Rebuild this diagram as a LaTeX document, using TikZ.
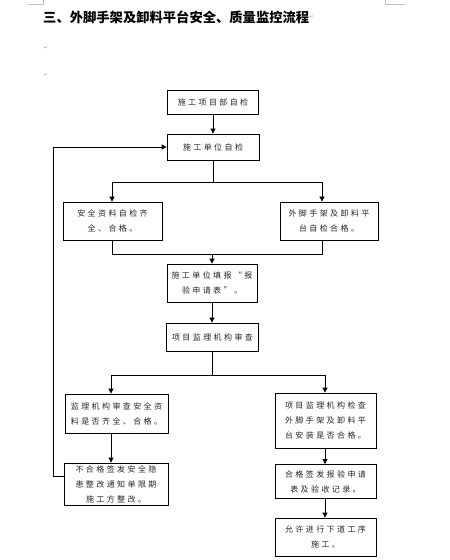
\documentclass[tikz,border=0pt]{standalone}
\usepackage{fontspec}
\usetikzlibrary{arrows.meta}
\setmainfont{Liberation Serif}
\newfontfamily\cjkbox{Noto Sans CJK SC}[LetterSpace=30]
\newfontfamily\cjktitle{Noto Sans CJK SC}
\newfontfamily\dejavu{DejaVu Sans}
\begin{document}
\begin{tikzpicture}[x=1bp,y=-1bp,
  box/.style={draw,line width=0.8bp,align=center,inner sep=0pt,
    font=\cjkbox\fontsize{8bp}{15bp}\selectfont,text=black!85},
  arr/.style={line width=0.8bp,-{Triangle[length=5bp,width=5bp]}},
  ln/.style={line width=0.8bp},
  pmark/.style={font=\dejavu\fontsize{5bp}{5bp}\selectfont,text=gray!70,inner sep=0pt}]
\useasboundingbox (0,0) rectangle (450,560);
\fill[white] (0,0) rectangle (450,560);
% corner marks
\draw[gray!50,line width=0.5bp] (28,4) -- (43,4) -- (43,0);
\draw[gray!50,line width=0.5bp] (385,0) -- (385,4) -- (405,4);
% title
\node[anchor=west,inner sep=0pt,font=\cjktitle\bfseries\fontsize{13.3bp}{15bp}\selectfont] (title) at (43,17) {三、外脚手架及卸料平台安全、质量监控流程};
\node[pmark,anchor=west] (pm0) at (title.east) {↵};
\node[pmark] (pm1) at (46,48) {↵};
\node[pmark] (pm2) at (46,75) {↵};
% boxes
\node[box,minimum width=91bp,minimum height=24bp] (b1) at (213,102) {施工项目部自检};
\node[box,minimum width=92bp,minimum height=26bp] (b2) at (213,147) {施工单位自检};
\node[box,minimum width=99bp,minimum height=38bp] (b3) at (112.5,221) {安全资料自检齐\\全、合格。};
\node[box,minimum width=98bp,minimum height=38bp] (b4) at (329,221) {外脚手架及卸料平\\台自检合格。};
\node[box,minimum width=90bp,minimum height=38bp] (b5) at (212,283) {施工单位填报“报\\验申请表”。};
\node[box,minimum width=92bp,minimum height=28bp] (b6) at (212.5,337) {项目监理机构审查};
\node[box,minimum width=103bp,minimum height=39bp] (b7) at (116.5,413.5) {监理机构审查安全资\\料是否齐全、合格。};
\node[box,minimum width=104bp,minimum height=42bp] (b8) at (116,484) {不合格签发安全隐\\患整改通知单限期\\施工方整改。};
\node[box,minimum width=101bp,minimum height=55bp] (b9) at (325.5,420.5) {项目监理机构检查\\外脚手架及卸料平\\台安装是否合格。};
\node[box,minimum width=101bp,minimum height=34bp] (b10) at (325.5,481.5) {合格签发报验申请\\表及验收记录。};
\node[box,minimum width=101bp,minimum height=38bp] (b11) at (325.5,537) {允许进行下道工序\\施工。};
% junctions
\coordinate (j1) at (213,182);
\coordinate (j1l) at (112,182);
\coordinate (j1r) at (322,182);
\coordinate (j2) at (212,254);
\coordinate (j2l) at (112,254);
\coordinate (j2r) at (322,254);
\coordinate (j3) at (212,375);
\coordinate (j3l) at (111,375);
\coordinate (j3r) at (325,375);
\coordinate (fb) at (53,476);
% connectors
\draw[arr] (b1.south) -- (b2.north);
\draw[ln] (b2.south) -- (j1);
\draw[ln] (j1l) -- (j1r);
\draw[arr] (j1l) -- (b3.north -| j1l);
\draw[arr] (j1r) -- (b4.north -| j1r);
\draw[ln] (b3.south -| j2l) -- (j2l) -- (j2r) -- (b4.south -| j2r);
\draw[arr] (j2) -- (b5.north -| j2);
\draw[arr] (b5.south -| j2) -- (b6.north -| j2);
\draw[ln] (b6.south -| j3) -- (j3);
\draw[ln] (j3l) -- (j3r);
\draw[arr] (j3l) -- (b7.north -| j3l);
\draw[arr] (j3r) -- (b9.north -| j3r);
\draw[arr] (b7.south -| j3l) -- (b8.north -| j3l);
\draw[arr] (b9.south -| j3r) -- (b10.north -| j3r);
\draw[arr] (b10.south -| j3r) -- (b11.north -| j3r);
\draw[arr] (b8.west |- fb) -- (fb) |- (b2.west);
\end{tikzpicture}
\end{document}
